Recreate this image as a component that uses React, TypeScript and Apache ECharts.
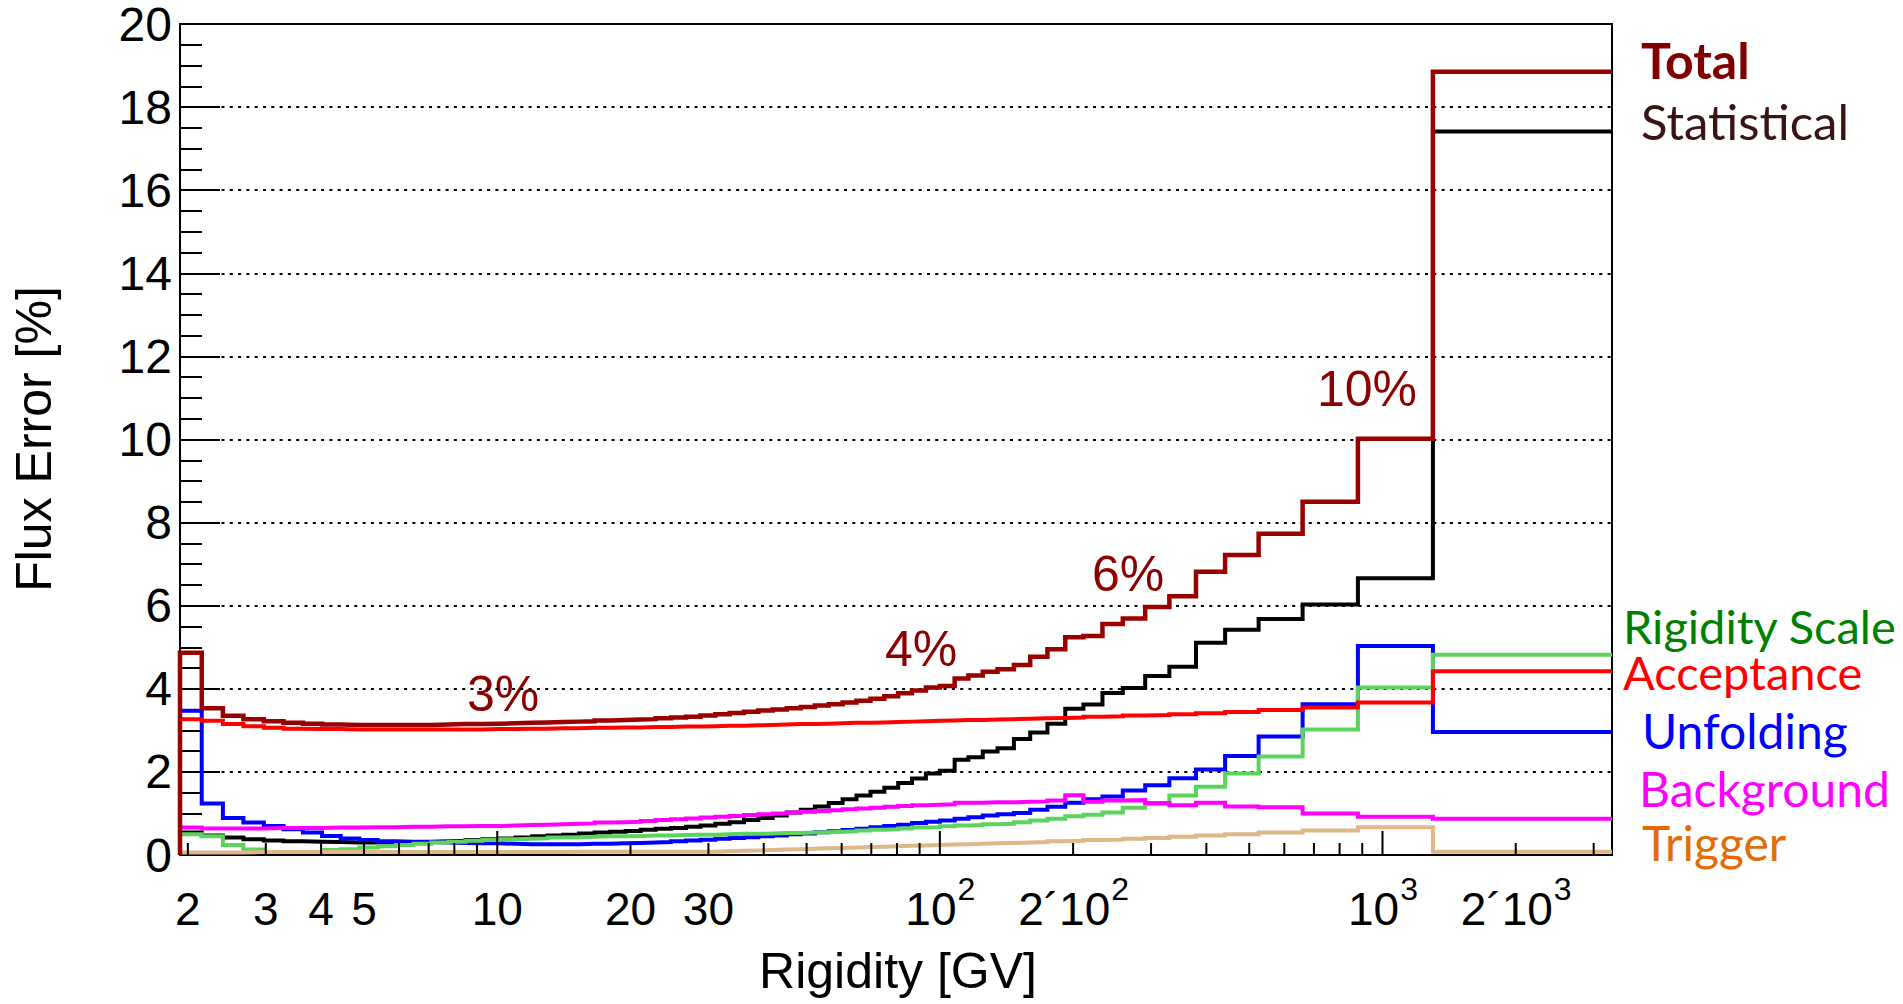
import React, { useEffect, useRef } from "react";
import * as echarts from "echarts";

// Rigidity bin edges [GV]; the last bin runs out to the axis end.
const binEdges = [
  1.92, 2.15, 2.4, 2.67, 2.97, 3.29, 3.64, 4.02, 4.43, 4.88,
  5.37, 5.9, 6.47, 7.09, 7.76, 8.48, 9.26, 10.1, 11.0, 12.0,
  13.0, 14.1, 15.3, 16.6, 18.0, 19.5, 21.1, 22.8, 24.7, 26.7,
  28.8, 31.1, 33.5, 36.1, 38.9, 41.9, 45.1, 48.5, 52.2, 56.1,
  60.3, 64.8, 69.7, 74.9, 80.5, 86.5, 93.0, 100, 108, 116,
  125, 135, 147, 160, 175, 192, 211, 233, 259, 291,
  330, 379, 441, 525, 660, 880, 1300, 3300,
];

// Relative flux errors per bin [%]
const totalErr = [
  4.87, 3.53, 3.35, 3.27, 3.22, 3.18, 3.16, 3.14, 3.13, 3.13,
  3.13, 3.13, 3.13, 3.14, 3.15, 3.15, 3.16, 3.17, 3.18, 3.19,
  3.2, 3.21, 3.22, 3.24, 3.25, 3.26, 3.27, 3.29, 3.31, 3.33,
  3.36, 3.39, 3.42, 3.45, 3.48, 3.5, 3.53, 3.56, 3.6, 3.63,
  3.67, 3.71, 3.76, 3.82, 3.89, 3.96, 4.03, 4.07, 4.25, 4.32,
  4.41, 4.47, 4.57, 4.77, 4.95, 5.24, 5.27, 5.56, 5.69, 5.97,
  6.23, 6.82, 7.22, 7.73, 8.5, 10.02, 18.85,
];

const statErr = [
  0.54, 0.47, 0.42, 0.38, 0.35, 0.33, 0.32, 0.31, 0.3, 0.3,
  0.3, 0.31, 0.32, 0.33, 0.34, 0.36, 0.38, 0.4, 0.42, 0.45,
  0.47, 0.49, 0.52, 0.54, 0.56, 0.58, 0.61, 0.63, 0.65, 0.68,
  0.71, 0.75, 0.79, 0.84, 0.89, 0.95, 1.02, 1.09, 1.17, 1.25,
  1.34, 1.43, 1.52, 1.62, 1.73, 1.84, 1.96, 2.03, 2.29, 2.35,
  2.49, 2.57, 2.79, 2.95, 3.16, 3.52, 3.62, 3.9, 4.02, 4.31,
  4.53, 5.11, 5.42, 5.68, 6.03, 6.66, 17.41,
];

const acceptanceErr = [
  3.27, 3.23, 3.15, 3.1, 3.06, 3.04, 3.03, 3.03, 3.02, 3.02,
  3.02, 3.02, 3.02, 3.02, 3.02, 3.02, 3.03, 3.03, 3.04, 3.04,
  3.05, 3.05, 3.06, 3.06, 3.07, 3.07, 3.08, 3.08, 3.09, 3.09,
  3.1, 3.11, 3.11, 3.12, 3.13, 3.14, 3.15, 3.15, 3.16, 3.17,
  3.18, 3.18, 3.19, 3.2, 3.21, 3.22, 3.23, 3.24, 3.25, 3.25,
  3.26, 3.27, 3.28, 3.29, 3.3, 3.31, 3.33, 3.34, 3.36, 3.37,
  3.39, 3.41, 3.44, 3.49, 3.55, 3.67, 4.42,
];

const unfoldingErr = [
  3.47, 1.24, 0.89, 0.78, 0.7, 0.62, 0.54, 0.46, 0.4, 0.36,
  0.33, 0.32, 0.31, 0.3, 0.29, 0.28, 0.28, 0.27, 0.26, 0.26,
  0.26, 0.26, 0.27, 0.27, 0.28, 0.29, 0.3, 0.31, 0.33, 0.35,
  0.37, 0.39, 0.41, 0.43, 0.45, 0.47, 0.5, 0.52, 0.55, 0.57,
  0.6, 0.63, 0.67, 0.7, 0.73, 0.77, 0.8, 0.83, 0.87, 0.91,
  0.95, 0.98, 1.01, 1.09, 1.16, 1.26, 1.34, 1.41, 1.55, 1.68,
  1.85, 2.06, 2.38, 2.85, 3.63, 5.03, 2.96,
];

const rigidityScaleErr = [
  0.5, 0.45, 0.24, 0.13, 0.07, 0.07, 0.07, 0.12, 0.14, 0.18,
  0.21, 0.24, 0.27, 0.3, 0.32, 0.34, 0.36, 0.38, 0.39, 0.4,
  0.42, 0.43, 0.44, 0.45, 0.45, 0.46, 0.47, 0.47, 0.48, 0.49,
  0.49, 0.5, 0.51, 0.51, 0.52, 0.53, 0.53, 0.54, 0.55, 0.56,
  0.57, 0.59, 0.61, 0.62, 0.64, 0.66, 0.67, 0.69, 0.71, 0.72,
  0.74, 0.75, 0.79, 0.83, 0.87, 0.93, 0.97, 1.02, 1.14, 1.22,
  1.43, 1.64, 1.96, 2.37, 3.02, 4.03, 4.82,
];

const backgroundErr = [
  0.66, 0.64, 0.64, 0.64, 0.65, 0.65, 0.65, 0.66, 0.66, 0.67,
  0.67, 0.68, 0.68, 0.69, 0.69, 0.7, 0.7, 0.71, 0.72, 0.73,
  0.74, 0.75, 0.76, 0.78, 0.79, 0.8, 0.82, 0.84, 0.86, 0.88,
  0.9, 0.92, 0.94, 0.96, 0.98, 1.0, 1.02, 1.04, 1.06, 1.08,
  1.1, 1.12, 1.14, 1.16, 1.18, 1.2, 1.21, 1.22, 1.26, 1.26,
  1.27, 1.27, 1.28, 1.29, 1.31, 1.44, 1.28, 1.31, 1.32, 1.25,
  1.2, 1.26, 1.17, 1.15, 1.0, 0.92, 0.87,
];

const triggerErr = [
  0.06, 0.06, 0.06, 0.07, 0.07, 0.07, 0.07, 0.07, 0.07, 0.07,
  0.07, 0.07, 0.07, 0.07, 0.07, 0.07, 0.07, 0.07, 0.07, 0.07,
  0.07, 0.08, 0.08, 0.08, 0.08, 0.08, 0.08, 0.08, 0.08, 0.08,
  0.08, 0.09, 0.1, 0.11, 0.12, 0.13, 0.14, 0.15, 0.16, 0.17,
  0.18, 0.19, 0.2, 0.21, 0.22, 0.23, 0.24, 0.25, 0.26, 0.27,
  0.28, 0.29, 0.3, 0.31, 0.33, 0.34, 0.36, 0.37, 0.39, 0.41,
  0.44, 0.47, 0.5, 0.54, 0.59, 0.67, 0.08,
];

// Axis ranges and tick marks
const xMin = 1.92;
const xMax = 3300;
const yMin = 0;
const yMax = 20;
const yStep = 2;
const xMajorTicks = [10, 100, 1000];
const xMinorTicks = [
  2, 3, 4, 5, 6, 7, 8, 9,
  20, 30, 40, 50, 60, 70, 80, 90,
  200, 300, 400, 500, 600, 700, 800, 900,
  2000, 3000,
];
const xLabelValues = [2, 3, 4, 5, 10, 20, 30, 100, 200, 1000, 2000];
const xLabelBase = ["2", "3", "4", "5", "10", "20", "30", "10", "2\u00b410", "10", "2\u00b410"];
const xLabelExp = ["", "", "", "", "", "", "", "2", "2", "3", "3"];

const percentNotes = ["3%", "4%", "6%", "10%"];
const legendNames = ["Total", "Statistical", "Rigidity Scale", "Acceptance", "Unfolding", "Background", "Trigger"];

const SANS = "'Liberation Sans', Arial, Helvetica, sans-serif";
const LEGEND_FONT = "Lato, 'Open Sans', sans-serif";

function histPoints(values: number[]) {
  const pts: number[][] = [[binEdges[0], 0]];
  values.forEach((v, i) => pts.push([binEdges[i], v]));
  pts.push([binEdges[values.length], values[values.length - 1]]);
  return pts;
}

let measureCtx: CanvasRenderingContext2D | null = null;
function textWidth(text: string, font: string) {
  if (!measureCtx) measureCtx = document.createElement("canvas").getContext("2d");
  if (!measureCtx) return text.length * 20;
  measureCtx.font = font;
  return measureCtx.measureText(text).width;
}

export default function App() {
  const ref = useRef<HTMLDivElement>(null);

  useEffect(() => {
    if (!ref.current) return;
    const chart = echarts.init(ref.current, null, { renderer: "svg" });

    const histSeries = [
      { name: "Statistical", data: statErr, color: "#000000", width: 4 },
      { name: "Unfolding", data: unfoldingErr, color: "#0000ff", width: 4 },
      { name: "Rigidity Scale", data: rigidityScaleErr, color: "#5cd35c", width: 4 },
      { name: "Acceptance", data: acceptanceErr, color: "#ff0000", width: 4 },
      { name: "Background", data: backgroundErr, color: "#ff00ff", width: 4 },
      { name: "Trigger", data: triggerErr, color: "#deb887", width: 4 },
      { name: "Total", data: totalErr, color: "#990000", width: 4.5 },
    ].map((s, i) => ({
      type: "line",
      name: s.name,
      step: "end",
      data: histPoints(s.data),
      showSymbol: false,
      symbol: "none",
      silent: true,
      z: 3 + i * 0.01,
      lineStyle: { color: s.color, width: s.width, cap: "butt", join: "miter" },
    }));

    const tickData = [
      ...xMajorTicks.map((v) => [v, 0, 1]),
      ...xMinorTicks.map((v) => [v, 0, 0]),
    ];

    const baseFontSize = 46;
    const supFontSize = 32;
    const baseFont = `${baseFontSize}px ${SANS}`;
    const supFont = `${supFontSize}px ${SANS}`;
    const labelY = 909;

    const option: any = {
      animation: false,
      backgroundColor: "#ffffff",
      grid: {
        left: 180,
        top: 24,
        right: 291,
        bottom: 149,
        show: true,
        borderColor: "#000",
        borderWidth: 2,
        backgroundColor: "transparent",
      },
      xAxis: {
        type: "log",
        logBase: 10,
        min: xMin,
        max: xMax,
        axisLine: { show: true, onZero: false, lineStyle: { color: "#000", width: 2 } },
        axisTick: { show: false },
        axisLabel: { show: false },
        splitLine: { show: false },
        minorTick: { show: false },
      },
      yAxis: {
        type: "value",
        min: yMin,
        max: yMax,
        interval: yStep,
        axisLine: { show: true, lineStyle: { color: "#000", width: 2 } },
        axisTick: { show: true, inside: true, length: 40, lineStyle: { color: "#000", width: 2 } },
        minorTick: { show: true, splitNumber: 4, length: 22, lineStyle: { color: "#000", width: 2 } },
        splitLine: { show: true, lineStyle: { color: "#000", width: 2, type: [3, 5.3] } },
        axisLabel: {
          show: true,
          color: "#000",
          fontSize: 48,
          fontFamily: SANS,
          margin: 8,
          lineHeight: 38,
          padding: [6, 0, 0, 0],
        },
      },
      series: [
        ...histSeries,
        {
          type: "custom",
          name: "xticks",
          silent: true,
          clip: false,
          z: 5,
          data: tickData,
          renderItem: (params: any, api: any) => {
            const p = api.coord([api.value(0), 0]);
            const len = api.value(2) ? 24 : 12;
            return {
              type: "line",
              shape: { x1: p[0], y1: p[1], x2: p[0], y2: p[1] - len },
              style: { stroke: "#000", lineWidth: 2 },
            };
          },
        },
        {
          type: "custom",
          name: "xlabels",
          silent: true,
          clip: false,
          z: 5,
          data: xLabelValues.map((v) => [v, 0]),
          renderItem: (params: any, api: any) => {
            const i = params.dataIndex;
            const p = api.coord([api.value(0), 0]);
            const base = xLabelBase[i];
            const exp = xLabelExp[i];
            if (!exp) {
              return {
                type: "text",
                x: p[0],
                y: labelY,
                style: {
                  text: base,
                  fill: "#000",
                  font: baseFont,
                  align: "center",
                  verticalAlign: "middle",
                },
              };
            }
            const wb = textWidth(base, baseFont);
            const ws = textWidth(exp, supFont);
            const split = p[0] + (wb - ws) / 2;
            return {
              type: "group",
              children: [
                {
                  type: "text",
                  x: split,
                  y: labelY,
                  style: { text: base, fill: "#000", font: baseFont, align: "right", verticalAlign: "middle" },
                },
                {
                  type: "text",
                  x: split + 1,
                  y: labelY - 20,
                  style: { text: exp, fill: "#000", font: supFont, align: "left", verticalAlign: "middle" },
                },
              ],
            };
          },
        },
      ],
      graphic: [
        // axis titles
        {
          type: "text",
          x: 898,
          y: 971,
          style: {
            text: "Rigidity [GV]",
            fill: "#000",
            font: `50px ${SANS}`,
            align: "center",
            verticalAlign: "middle",
          },
        },
        {
          type: "text",
          x: 34,
          y: 439,
          rotation: Math.PI / 2,
          style: {
            text: "Flux Error [%]",
            fill: "#000",
            font: `50px ${SANS}`,
            align: "center",
            verticalAlign: "middle",
          },
        },
        // percent annotations along the total error curve
        ...[
          [503, 694],
          [921, 649],
          [1128, 574],
          [1367, 389],
        ].map((pos, i) => ({
          type: "text",
          x: pos[0],
          y: pos[1],
          style: {
            text: percentNotes[i],
            fill: "#8b0000",
            font: `50px ${SANS}`,
            align: "center",
            verticalAlign: "middle",
          },
        })),
        // legend labels to the right of the frame
        ...[
          { x: 1641, y: 60, color: "#800000", font: `bold 50px ${LEGEND_FONT}` },
          { x: 1641, y: 121, color: "#3a1414", font: `49px ${LEGEND_FONT}` },
          { x: 1623, y: 626, color: "#008000", font: `47px ${LEGEND_FONT}` },
          { x: 1623, y: 672, color: "#ff0000", font: `47px ${LEGEND_FONT}` },
          { x: 1642, y: 730, color: "#0000ff", font: `48px ${LEGEND_FONT}` },
          { x: 1639, y: 788, color: "#ff00ff", font: `48px ${LEGEND_FONT}` },
          { x: 1642, y: 842, color: "#e36c09", font: `48px ${LEGEND_FONT}` },
        ].map((l, i) => ({
          type: "text",
          x: l.x,
          y: l.y,
          style: {
            text: legendNames[i],
            fill: l.color,
            font: l.font,
            lineHeight: 36,
            align: "left",
            verticalAlign: "middle",
          },
        })),
      ],
    };

    chart.setOption(option);
    return () => chart.dispose();
  }, []);

  return (
    <div
      ref={ref}
      style={{ position: "absolute", left: 0, top: 0, width: 1903, height: 1004, background: "#fff" }}
    />
  );
}
